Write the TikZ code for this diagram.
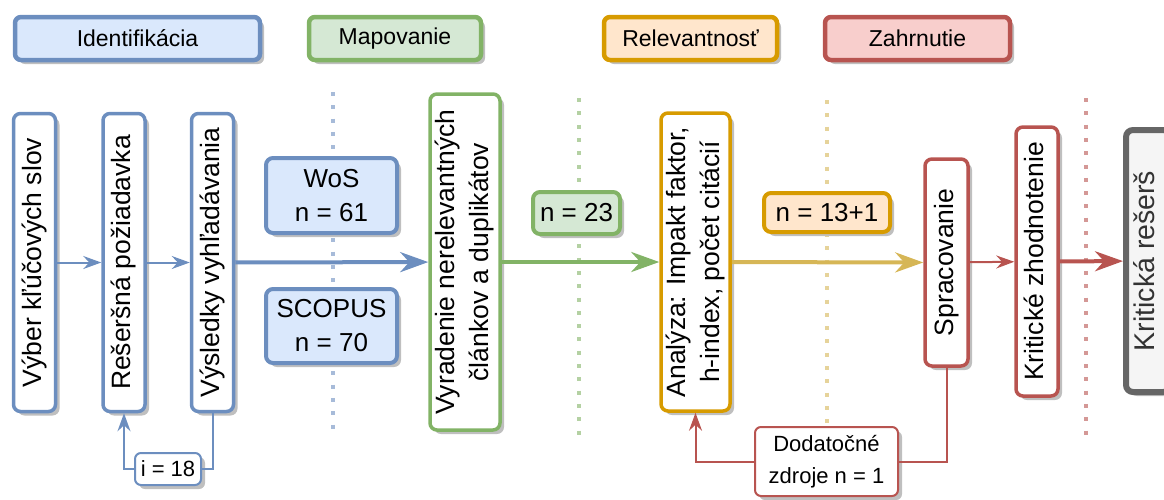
\documentclass[tikz,border=0pt]{standalone}
\usepackage{fontspec}
\setmainfont{Liberation Sans}
\usetikzlibrary{arrows.meta,shadows}
\definecolor{blueline}{HTML}{6C8EBF}
\definecolor{bluefill}{HTML}{DAE8FC}
\definecolor{greenline}{HTML}{82B366}
\definecolor{greenfill}{HTML}{D5E8D4}
\definecolor{orangeline}{HTML}{D79B00}
\definecolor{orangefill}{HTML}{FFE6CC}
\definecolor{yellowline}{HTML}{D6B656}
\definecolor{redline}{HTML}{B85450}
\definecolor{redfill}{HTML}{F8CECC}
\definecolor{grayline}{HTML}{666666}
\definecolor{grayfill}{HTML}{F5F5F5}
\definecolor{graytext}{HTML}{333333}
\newcommand{\uptext}[1]{\rotatebox{90}{\begin{tabular}{@{}c@{}}#1\end{tabular}}}
\tikzset{
  boxshadow/.style={drop shadow={shadow xshift=4pt, shadow yshift=-4pt, fill=black!25, opacity=1}},
  phasebox/.style={draw=#1line, fill=#1fill, rounded corners=6pt, line width=4.5pt,
    minimum height=43pt, inner sep=0pt, font=\fontsize{23}{28}\selectfont, boxshadow},
  stagebox/.style={draw=#1line, fill=white, rounded corners=7pt, line width=3.5pt,
    inner sep=0pt, font=\fontsize{26.5}{34}\selectfont, boxshadow},
  countbox/.style={draw=#1line, fill=#1fill, rounded corners=7pt, line width=4pt,
    inner sep=0pt, align=center, font=\fontsize{26}{34}\selectfont, boxshadow},
  notebox/.style={draw=#1line, fill=white, rounded corners=6pt, line width=2pt,
    inner sep=0pt, align=center, font=\fontsize{22}{32}\selectfont, boxshadow},
  flow/.style={-{Stealth[length=18pt,width=13pt,inset=6pt]}, line width=2pt, draw=#1},
  mainflow/.style={-{Stealth[length=28pt,width=20pt,inset=9pt]}, line width=4pt, draw=#1},
  feedback/.style={line width=2pt, draw=#1},
  divider/.style={line width=4pt, dash pattern=on 4pt off 9.3pt, draw=#1}
}

\begin{document}
\begin{tikzpicture}[x=1pt, y=-1pt]
  \clip (0,0) rectangle (1164,499);

  % phase separators
  \draw[divider=blueline!60!white] (333,92) -- (333,430);
  \draw[divider=greenline!60!white] (579,98) -- (579,435);
  \draw[divider=yellowline!60!white] (827,100) -- (827,423);
  \draw[divider=redline!60!white] (1086,98) -- (1086,436);

  % phases
  \node[phasebox=blue, minimum width=245pt] (identifikacia) at (137.5,38.5) {Identifikácia};
  \node[phasebox=green, minimum width=172pt] (mapovanie) at (395,38.5) {Mapovanie};
  \node[phasebox=orange, minimum width=173pt] (relevantnost) at (690.5,38.5) {Relevantnosť};
  \node[phasebox=red, minimum width=185pt] (zahrnutie) at (917.5,38.5) {Zahrnutie};

  % identifikacia
  \node[stagebox=blue, minimum width=42pt, minimum height=298pt] (vyber) at (34.5,262.5) {\uptext{Výber kľúčových slov}};
  \node[stagebox=blue, minimum width=42pt, minimum height=298pt] (reserse) at (124,262.5) {\uptext{Rešeršná požiadavka}};
  \node[stagebox=blue, minimum width=42pt, minimum height=298pt] (vysledky) at (212.5,262.5) {\uptext{Výsledky vyhľadávania}};
  \node[countbox=blue, minimum width=131pt, minimum height=75pt] (wos) at (331.5,195.5) {WoS\\n = 61};
  \node[countbox=blue, minimum width=131pt, minimum height=74pt] (scopus) at (331.5,326) {SCOPUS\\n = 70};
  \node[notebox=blue, minimum width=66pt, minimum height=32pt] (iter) at (168,469) {i = 18};

  % mapovanie
  \node[stagebox=green, minimum width=70pt, minimum height=336pt] (vyradenie) at (465,262) {\uptext{Vyradenie nerelevantných\\článkov a duplikátov}};
  \node[countbox=green, minimum width=87pt, minimum height=42pt] (n23) at (576.5,213) {n = 23};

  % relevantnost
  \node[stagebox=orange, minimum width=69pt, minimum height=298pt] (analyza) at (695.5,262) {\uptext{Analýza: Impakt faktor,\\h-index, počet citácií}};
  \node[countbox=orange, minimum width=126pt, minimum height=39pt] (n13) at (827,212.5) {n = 13+1};

  % zahrnutie
  \node[stagebox=red, minimum width=43pt, minimum height=207pt] (spracovanie) at (946.5,262.5) {\uptext{Spracovanie}};
  \node[stagebox=red, minimum width=42pt, minimum height=269pt] (zhodnotenie) at (1037,261.5) {\uptext{Kritické zhodnotenie}};
  \node[stagebox=gray, fill=grayfill, line width=6pt, minimum width=44pt, minimum height=262pt,
    text=graytext, font=\fontsize{28.5}{34}\selectfont] (reser) at (1148,261) {\uptext{Kritická rešerš}};
  \node[notebox=red, minimum width=143pt, minimum height=69pt] (dodatocne) at (826.5,461.5) {Dodatočné\\zdroje n = 1};

  % connectors
  \draw[flow=blueline] (vyber) -- (reserse);
  \draw[flow=blueline] (reserse) -- (vysledky);
  \draw[mainflow=blueline] (vysledky) -- (vyradenie);
  \draw[feedback=blueline] (vysledky.south) |- (iter.east);
  \draw[flow=blueline] (iter.west) -| (reserse.south);
  \draw[mainflow=greenline] (vyradenie) -- (analyza);
  \draw[mainflow=yellowline] (analyza) -- (spracovanie);
  \draw[flow=redline] (spracovanie) -- (zhodnotenie);
  \draw[mainflow=redline] (zhodnotenie) -- (reser);
  \draw[feedback=redline] (spracovanie.south) |- (dodatocne.east);
  \draw[flow=redline] (dodatocne.west) -| (analyza.south);
\end{tikzpicture}
\end{document}
